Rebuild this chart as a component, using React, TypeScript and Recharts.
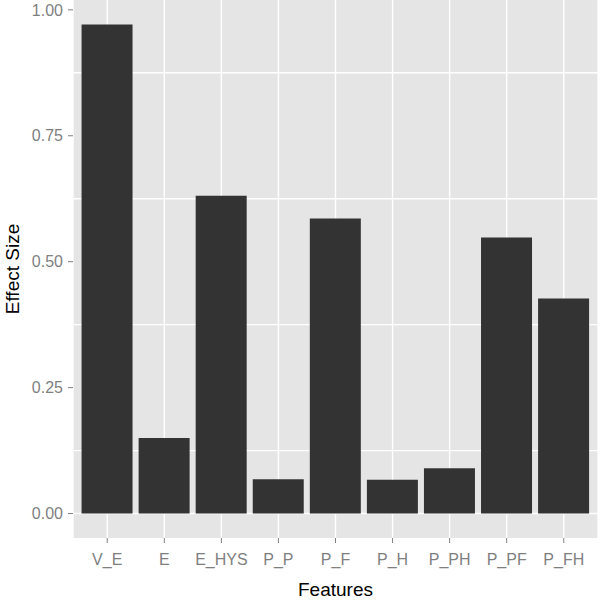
import { BarChart, Bar, XAxis, YAxis, CartesianGrid } from 'recharts';

// Features on the x axis and their effect sizes
const features = ['V_E', 'E', 'E_HYS', 'P_P', 'P_F', 'P_H', 'P_PH', 'P_PF', 'P_FH'];
const effectSize = [0.971, 0.15, 0.631, 0.068, 0.586, 0.067, 0.09, 0.548, 0.427];

// Axis ticks (major) and the minor grid in between
const yTicks = [0, 0.25, 0.5, 0.75, 1];
const yMinor = [0.125, 0.375, 0.625, 0.875];

const data = features.map((name, i) => ({ name, value: effectSize[i] }));

// ggplot-like 5% expansion around the data range
const maxV = Math.max(...effectSize);
const yDomain = [-0.05 * maxV, 1.05 * maxV];
const gridValues = [...yTicks, ...yMinor];

const font = '"Liberation Sans", Arial, sans-serif';
const tickStyle = { fill: '#7F7F7F', fontSize: 16, fontFamily: font };

// major rows thicker than the minor ones
function GridRow(props: any) {
    const { x1, x2, y1, y2, index } = props;
    return (
        <line
            x1={x1}
            x2={x2}
            y1={y1}
            y2={y2}
            stroke="#FFFFFF"
            strokeWidth={index < yTicks.length ? 1.4 : 0.7}
        />
    );
}

export default function App() {
    return (
        <div style={{ position: 'absolute', left: 0, top: 0, width: 600, height: 600, background: '#fff' }}>
            <BarChart
                width={600}
                height={600}
                data={data}
                margin={{ top: 0, right: 2, bottom: 0, left: 0 }}
                barCategoryGap="5%"
            >
                <CartesianGrid
                    fill="#E5E5E5"
                    stroke="#FFFFFF"
                    strokeWidth={1.4}
                    horizontalValues={gridValues}
                    horizontal={(p: any) => <GridRow key={`h-${p.index}`} {...p} />}
                />
                <XAxis
                    dataKey="name"
                    height={62}
                    padding={{ left: 5.7, right: 5.7 }}
                    axisLine={false}
                    tickSize={5}
                    tickMargin={11}
                    tickLine={{ stroke: '#7F7F7F' }}
                    tick={tickStyle}
                    interval={0}
                    label={{
                        content: ({ viewBox }: any) => (
                            <text
                                x={viewBox.x + viewBox.width / 2}
                                y={viewBox.y + 51}
                                textAnchor="middle"
                                dominantBaseline="central"
                                fontSize={19}
                                fontFamily={font}
                                fill="#000"
                            >
                                Features
                            </text>
                        ),
                    }}
                />
                <YAxis
                    type="number"
                    width={73}
                    domain={yDomain}
                    allowDataOverflow
                    ticks={yTicks}
                    tickFormatter={(v: number) => v.toFixed(2)}
                    axisLine={false}
                    tickSize={5}
                    tickMargin={5}
                    tickLine={{ stroke: '#7F7F7F' }}
                    tick={tickStyle}
                    label={{
                        content: ({ viewBox }: any) => {
                            const x = viewBox.x + 12;
                            const y = viewBox.y + viewBox.height / 2;
                            return (
                                <text
                                    x={x}
                                    y={y}
                                    transform={`rotate(-90 ${x} ${y})`}
                                    textAnchor="middle"
                                    dominantBaseline="central"
                                    fontSize={19}
                                    fontFamily={font}
                                    fill="#000"
                                >
                                    Effect Size
                                </text>
                            );
                        },
                    }}
                />
                <Bar dataKey="value" fill="#333333" isAnimationActive={false} />
            </BarChart>
        </div>
    );
}
